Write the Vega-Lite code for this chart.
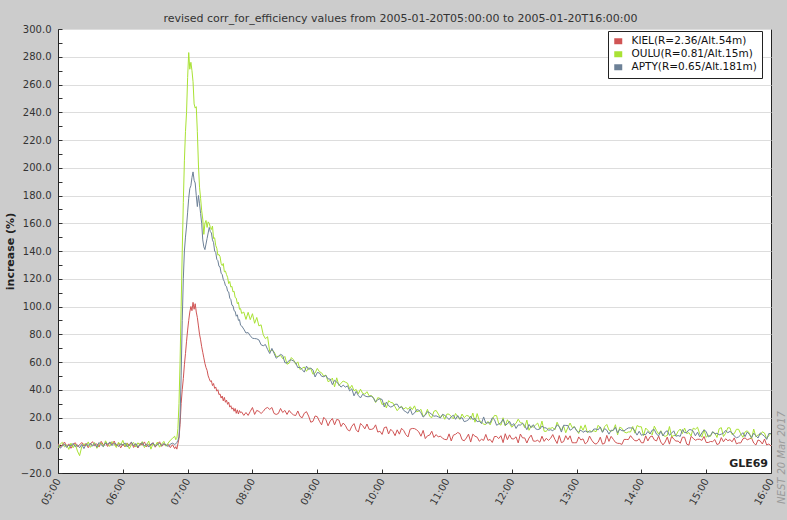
{
  "$schema": "https://vega.github.io/schema/vega-lite/v6.json",
  "width": 713,
  "height": 444,
  "autosize": {"type": "none"},
  "padding": {"left": 58, "top": 29, "right": 16, "bottom": 47},
  "background": "#cccccc",
  "config": {
    "font": "DejaVu Sans",
    "view": {"fill": "white", "stroke": "#222222", "strokeWidth": 1},
    "axis": {"labelFont": "DejaVu Sans", "titleFont": "DejaVu Sans", "labelColor": "#333333", "domainColor": "#222222", "tickColor": "#333333"}
  },
  "title": {
    "text": "revised corr_for_efficiency values from 2005-01-20T05:00:00 to 2005-01-20T16:00:00",
    "fontSize": 11,
    "fontWeight": "normal",
    "color": "#333333",
    "font": "DejaVu Sans",
    "offset": 7,
    "dx": -14,
    "dy": 7
  },
  "data": {"values": [
{"m":0,"k":1.2,"o":-2.0,"a":0.5},{"m":2,"k":-1.5,"o":0.8,"a":-2.1},{"m":4,"k":0.4,"o":2.1,"a":-0.8},{"m":6,"k":2.3,"o":-1.2,"a":1.0},{"m":8,"k":-0.7,"o":0.3,"a":-1.6},{"m":10,"k":1.0,"o":-3.0,"a":0.2},{"m":12,"k":-2.2,"o":1.5,"a":-0.5},{"m":14,"k":0.6,"o":-1.8,"a":1.4},{"m":16,"k":1.8,"o":0.9,"a":-1.1},{"m":18,"k":-1.0,"o":-4.2,"a":0.3},{"m":20,"k":0.3,"o":-7.5,"a":-1.8},{"m":22,"k":2.0,"o":-1.0,"a":0.6},{"m":24,"k":-0.5,"o":1.2,"a":-2.4},{"m":26,"k":1.4,"o":-0.6,"a":0.9},{"m":28,"k":-1.8,"o":2.4,"a":-0.3},{"m":30,"k":0.9,"o":-1.5,"a":1.6},{"m":32,"k":2.6,"o":0.4,"a":-0.7},{"m":34,"k":-0.4,"o":1.9,"a":1.2},{"m":36,"k":1.1,"o":-2.2,"a":-1.4},{"m":38,"k":-1.3,"o":0.7,"a":2.0},{"m":40,"k":2.8,"o":1.6,"a":0.4},{"m":42,"k":0.2,"o":-1.1,"a":-1.0},{"m":44,"k":1.6,"o":3.2,"a":1.8},{"m":46,"k":-0.9,"o":0.5,"a":0.6},{"m":48,"k":2.1,"o":-0.8,"a":2.4},{"m":50,"k":0.5,"o":2.7,"a":-0.2},{"m":52,"k":3.0,"o":1.0,"a":1.5},{"m":54,"k":-0.6,"o":-1.6,"a":0.8},{"m":56,"k":1.3,"o":2.2,"a":-0.9},{"m":58,"k":-1.9,"o":0.1,"a":1.1},{"m":60,"k":0.8,"o":3.5,"a":0.0},{"m":62,"k":-1.2,"o":-0.9,"a":1.7},{"m":64,"k":1.7,"o":1.4,"a":-1.2},{"m":66,"k":-0.3,"o":-2.5,"a":0.7},{"m":68,"k":2.2,"o":0.6,"a":2.2},{"m":70,"k":-1.6,"o":2.0,"a":-0.4},{"m":72,"k":0.7,"o":-1.3,"a":1.3},{"m":74,"k":-2.0,"o":1.8,"a":-1.5},{"m":76,"k":1.5,"o":-0.2,"a":0.4},{"m":78,"k":0.1,"o":2.6,"a":1.9},{"m":80,"k":2.4,"o":-1.7,"a":-0.6},{"m":82,"k":-1.1,"o":0.2,"a":1.0},{"m":84,"k":0.6,"o":3.0,"a":-1.3},{"m":86,"k":-0.2,"o":-2.8,"a":0.9},{"m":88,"k":1.9,"o":1.1,"a":1.6},{"m":90,"k":-1.4,"o":-0.4,"a":-0.8},{"m":92,"k":0.9,"o":2.3,"a":0.5},{"m":94,"k":2.5,"o":-1.4,"a":1.4},{"m":96,"k":-0.8,"o":0.9,"a":-0.2},{"m":98,"k":1.2,"o":2.8,"a":1.1},{"m":100,"k":-0.5,"o":-0.7,"a":0.3},{"m":102,"k":0.7,"o":1.6,"a":-0.9},{"m":104,"k":-1.7,"o":3.6,"a":0.8},{"m":106,"k":0.4,"o":5.0,"a":1.5},{"m":108,"k":-2.4,"o":6.5,"a":0.6},
{"m":109,"k":-1.0,"o":4.0,"a":1.0},{"m":110,"k":-2.8,"o":5.0,"a":2.0},{"m":111,"k":1.0,"o":12,"a":3.5},{"m":112,"k":5,"o":30,"a":6},{"m":113,"k":15,"o":60,"a":20},{"m":114,"k":30,"o":100,"a":50},{"m":115,"k":40,"o":140,"a":90},{"m":116,"k":48,"o":175,"a":120},{"m":117,"k":58,"o":205,"a":140},{"m":118,"k":66,"o":226,"a":150},{"m":119,"k":75,"o":240,"a":158},{"m":120,"k":83,"o":265,"a":168},{"m":121,"k":90,"o":283,"a":178},{"m":122,"k":96,"o":271,"a":185},{"m":123,"k":100,"o":276,"a":187},{"m":124,"k":97,"o":270,"a":193},{"m":125,"k":103,"o":262,"a":197},{"m":126,"k":98,"o":246,"a":191},{"m":127,"k":102,"o":243,"a":189},{"m":128,"k":96,"o":244,"a":180},{"m":129,"k":92,"o":226,"a":172},{"m":130,"k":86,"o":202,"a":180},{"m":131,"k":80,"o":186,"a":174},{"m":132,"k":76,"o":178,"a":167},{"m":133,"k":71,"o":169,"a":160},{"m":134,"k":67,"o":163,"a":148},{"m":135,"k":63,"o":152,"a":143},{"m":136,"k":59,"o":160,"a":141},{"m":137,"k":56,"o":162,"a":145},{"m":138,"k":54,"o":157,"a":149},{"m":139,"k":50,"o":161,"a":153},
{"m":140,"k":48,"o":160,"a":157},{"m":141,"k":46,"o":157,"a":154},{"m":142,"k":46.5,"o":155.5,"a":153},{"m":143,"k":43,"o":158,"a":148},{"m":144,"k":44.5,"o":149,"a":146},{"m":145,"k":41,"o":149.5,"a":140},{"m":146,"k":42,"o":144,"a":139},{"m":147,"k":39,"o":142,"a":134},{"m":148,"k":40,"o":137,"a":133},{"m":149,"k":36.5,"o":137.5,"a":129},{"m":150,"k":37,"o":136,"a":128.5},{"m":151,"k":34,"o":131,"a":124},{"m":152,"k":35.5,"o":129.5,"a":123},{"m":153,"k":32,"o":131,"a":119.5},{"m":154,"k":34.5,"o":125,"a":118},{"m":155,"k":31,"o":125.5,"a":115},{"m":156,"k":32.5,"o":123,"a":114.5},{"m":157,"k":29.5,"o":121,"a":111},{"m":158,"k":31,"o":116.5,"a":110.5},{"m":159,"k":27.5,"o":118,"a":106},{"m":160,"k":28.5,"o":114,"a":105},{"m":161,"k":26,"o":114.5,"a":101},{"m":162,"k":27,"o":110.5,"a":100.5},{"m":163,"k":24.5,"o":111,"a":97},{"m":164,"k":26.5,"o":106.5,"a":96.5},{"m":165,"k":23,"o":106,"a":93},{"m":166,"k":25.5,"o":102,"a":94},{"m":167,"k":22.5,"o":103,"a":90},{"m":168,"k":25,"o":98,"a":90.5},{"m":169,"k":23.5,"o":98.5,"a":86.5},{"m":170,"k":24,"o":95,"a":86},
{"m":172,"k":21.5,"o":96.0,"a":83.7},{"m":174,"k":23.6,"o":90.7,"a":80.9},{"m":176,"k":21.5,"o":95.8,"a":81.2},{"m":178,"k":24.4,"o":90.5,"a":78.9},{"m":180,"k":27.2,"o":94.8,"a":77.1},{"m":182,"k":22.2,"o":87.9,"a":76.9},{"m":184,"k":25.1,"o":92.1,"a":76.7},{"m":186,"k":24.4,"o":86.0,"a":75.9},{"m":188,"k":22.9,"o":86.8,"a":72.4},{"m":190,"k":24.4,"o":79.6,"a":71.7},
{"m":192,"k":26.5,"o":76.8,"a":72.6},{"m":194,"k":27.2,"o":78.2,"a":69.1},{"m":196,"k":25.8,"o":67.4,"a":66.1},{"m":198,"k":27.2,"o":68.6,"a":69.8},{"m":200,"k":22.9,"o":67.4,"a":66.3},{"m":202,"k":22.2,"o":64.0,"a":62.7},{"m":204,"k":22.9,"o":64.0,"a":64.1},{"m":206,"k":26.5,"o":64.8,"a":65.5},{"m":208,"k":23.6,"o":62.4,"a":64.7},{"m":210,"k":25.1,"o":64.0,"a":59.5},
{"m":212,"k":22.2,"o":58.4,"a":59.3},{"m":214,"k":25.1,"o":59.2,"a":61.2},{"m":216,"k":23.1,"o":63.2,"a":61.5},{"m":218,"k":21.9,"o":61.6,"a":60.7},{"m":220,"k":21.4,"o":58.4,"a":59.4},{"m":222,"k":24.7,"o":60.1,"a":55.9},{"m":224,"k":20.8,"o":54.6,"a":56.3},{"m":226,"k":19.8,"o":55.5,"a":54.5},{"m":228,"k":23.1,"o":56.4,"a":52.7},{"m":230,"k":24.2,"o":53.3,"a":57.0},
{"m":232,"k":21.0,"o":55.8,"a":54.6},{"m":234,"k":16.6,"o":55.1,"a":55.6},{"m":236,"k":17.2,"o":51.2,"a":54.3},{"m":238,"k":21.1,"o":52.1,"a":49.2},{"m":240,"k":20.6,"o":55.4,"a":52.4},{"m":242,"k":17.3,"o":53.0,"a":52.1},{"m":244,"k":14.7,"o":52.2,"a":49.7},{"m":246,"k":20.1,"o":49.8,"a":49.4},{"m":248,"k":18.4,"o":50.6,"a":50.3},{"m":250,"k":14.0,"o":45.8,"a":47.8},
{"m":252,"k":17.5,"o":46.7,"a":47.7},{"m":254,"k":19.3,"o":48.4,"a":43.7},{"m":256,"k":14.7,"o":42.1,"a":46.8},{"m":258,"k":18.6,"o":48.6,"a":45.6},{"m":260,"k":18.2,"o":43.1,"a":43.8},{"m":262,"k":13.5,"o":44.7,"a":41.9},{"m":264,"k":16.0,"o":46.3,"a":43.3},{"m":266,"k":14.3,"o":45.5,"a":41.9},{"m":268,"k":11.2,"o":44.7,"a":42.8},{"m":270,"k":10.3,"o":40.7,"a":39.2},
{"m":272,"k":13.7,"o":43.2,"a":40.7},{"m":274,"k":15.6,"o":39.3,"a":35.6},{"m":276,"k":11.1,"o":40.2,"a":38.8},{"m":278,"k":9.5,"o":37.1,"a":35.9},{"m":280,"k":15.7,"o":40.4,"a":34.1},{"m":282,"k":14.2,"o":37.4,"a":36.8},{"m":284,"k":11.8,"o":36.8,"a":35.6},{"m":286,"k":15.3,"o":38.6,"a":35.0},{"m":288,"k":11.5,"o":35.6,"a":35.0},{"m":290,"k":11.4,"o":35.8,"a":35.5},
{"m":292,"k":12.0,"o":34.5,"a":33.9},{"m":294,"k":14.7,"o":30.8,"a":31.2},{"m":296,"k":9.5,"o":34.3,"a":32.9},{"m":298,"k":10.1,"o":33.8,"a":33.5},{"m":300,"k":7.8,"o":29.3,"a":33.0},{"m":302,"k":12.7,"o":30.5,"a":27.6},{"m":304,"k":13.2,"o":26.9,"a":31.1},{"m":306,"k":8.1,"o":32.1,"a":28.5},{"m":308,"k":11.5,"o":30.9,"a":27.5},{"m":310,"k":9.9,"o":30.5,"a":28.2},
{"m":312,"k":6.9,"o":27.7,"a":29.5},{"m":314,"k":11.1,"o":24.9,"a":29.6},{"m":316,"k":8.0,"o":26.9,"a":27.0},{"m":318,"k":12.2,"o":28.1,"a":27.7},{"m":320,"k":10.6,"o":26.1,"a":25.1},{"m":322,"k":7.6,"o":27.2,"a":24.1},{"m":324,"k":6.0,"o":25.9,"a":23.0},{"m":326,"k":11.6,"o":27.8,"a":26.4},{"m":328,"k":12.1,"o":25.7,"a":22.0},{"m":330,"k":12.0,"o":28.4,"a":23.2},
{"m":332,"k":11.1,"o":24.1,"a":25.6},{"m":334,"k":9.6,"o":24.6,"a":25.3},{"m":336,"k":6.5,"o":25.9,"a":23.4},{"m":338,"k":10.7,"o":20.8,"a":20.3},{"m":340,"k":4.8,"o":22.1,"a":21.7},{"m":342,"k":6.8,"o":25.9,"a":24.2},{"m":344,"k":7.3,"o":20.9,"a":23.5},{"m":346,"k":10.1,"o":19.9,"a":22.2},{"m":348,"k":5.6,"o":24.5,"a":20.9},{"m":350,"k":7.7,"o":25.1,"a":21.2},
{"m":352,"k":6.0,"o":22.5,"a":20.5},{"m":354,"k":6.6,"o":19.9,"a":19.7},{"m":356,"k":5.0,"o":22.1,"a":22.3},{"m":358,"k":4.2,"o":18.7,"a":21.5},{"m":360,"k":4.0,"o":22.5,"a":20.2},{"m":362,"k":8.2,"o":22.4,"a":18.5},{"m":364,"k":3.1,"o":20.7,"a":20.6},{"m":366,"k":7.3,"o":19.0,"a":21.6},{"m":368,"k":7.9,"o":22.9,"a":18.7},{"m":370,"k":9.2,"o":20.4,"a":21.4},
{"m":372,"k":8.4,"o":18.6,"a":19.0},{"m":374,"k":4.0,"o":22.5,"a":20.0},{"m":376,"k":3.2,"o":19.9,"a":17.0},{"m":378,"k":5.2,"o":21.4,"a":17.5},{"m":380,"k":8.0,"o":21.2,"a":18.4},{"m":382,"k":2.3,"o":18.6,"a":20.9},{"m":384,"k":8.0,"o":23.2,"a":18.5},{"m":386,"k":6.5,"o":16.6,"a":19.4},{"m":388,"k":5.8,"o":22.8,"a":17.0},{"m":390,"k":2.9,"o":17.8,"a":17.4},
{"m":392,"k":4.3,"o":16.9,"a":15.6},{"m":394,"k":3.5,"o":15.1,"a":20.4},{"m":396,"k":7.8,"o":15.0,"a":15.9},{"m":398,"k":3.5,"o":17.2,"a":16.2},{"m":400,"k":4.2,"o":14.7,"a":16.1},{"m":402,"k":2.0,"o":18.5,"a":19.8},{"m":404,"k":6.3,"o":21.5,"a":18.5},{"m":406,"k":6.3,"o":21.3,"a":14.4},{"m":408,"k":4.8,"o":15.5,"a":15.3},{"m":410,"k":6.9,"o":14.5,"a":16.2},
{"m":412,"k":1.9,"o":19.8,"a":18.7},{"m":414,"k":8.3,"o":13.9,"a":14.5},{"m":416,"k":4.0,"o":18.4,"a":15.3},{"m":418,"k":7.5,"o":15.7,"a":17.2},{"m":420,"k":4.6,"o":13.0,"a":14.2},{"m":422,"k":4.6,"o":14.4,"a":15.6},{"m":424,"k":6.1,"o":15.8,"a":12.1},{"m":426,"k":1.7,"o":18.8,"a":14.7},{"m":428,"k":8.1,"o":16.2,"a":14.5},{"m":430,"k":5.3,"o":16.0,"a":15.9},
{"m":432,"k":5.3,"o":12.7,"a":14.2},{"m":434,"k":1.6,"o":18.1,"a":11.2},{"m":436,"k":5.2,"o":10.8,"a":15.0},{"m":438,"k":7.3,"o":13.9,"a":12.7},{"m":440,"k":3.0,"o":13.0,"a":14.8},{"m":442,"k":2.9,"o":14.5,"a":11.9},{"m":444,"k":3.6,"o":16.0,"a":11.3},{"m":446,"k":2.2,"o":11.9,"a":11.7},{"m":448,"k":6.5,"o":17.4,"a":13.8},{"m":450,"k":2.8,"o":10.1,"a":12.6},
{"m":452,"k":5.0,"o":10.0,"a":12.5},{"m":454,"k":3.5,"o":12.3,"a":10.8},{"m":456,"k":5.0,"o":12.2,"a":11.2},{"m":458,"k":7.7,"o":12.8,"a":10.5},{"m":460,"k":4.1,"o":11.1,"a":12.0},{"m":462,"k":1.3,"o":16.6,"a":14.7},{"m":464,"k":7.0,"o":13.3,"a":13.5},{"m":466,"k":1.9,"o":10.8,"a":9.5},{"m":468,"k":2.6,"o":13.9,"a":14.4},{"m":470,"k":6.9,"o":9.0,"a":14.3},
{"m":472,"k":4.0,"o":12.9,"a":14.2},{"m":474,"k":6.8,"o":16.0,"a":10.8},{"m":476,"k":1.8,"o":12.7,"a":11.8},{"m":478,"k":1.8,"o":13.4,"a":13.3},{"m":480,"k":1.8,"o":10.9,"a":10.5},{"m":482,"k":6.0,"o":8.5,"a":9.4},{"m":484,"k":3.8,"o":14.0,"a":10.9},{"m":486,"k":4.6,"o":10.8,"a":9.3},{"m":488,"k":1.0,"o":14.7,"a":10.3},{"m":490,"k":2.3,"o":9.1,"a":9.7},
{"m":492,"k":6.6,"o":10.6,"a":9.6},{"m":494,"k":3.7,"o":9.8,"a":9.6},{"m":496,"k":1.6,"o":10.5,"a":11.7},{"m":498,"k":0.8,"o":9.7,"a":11.7},{"m":500,"k":2.2,"o":14.4,"a":11.1},{"m":502,"k":5.8,"o":12.7,"a":13.2},{"m":504,"k":0.8,"o":9.5,"a":9.3},{"m":506,"k":1.4,"o":13.4,"a":12.0},{"m":508,"k":7.1,"o":15.0,"a":10.9},{"m":510,"k":2.8,"o":10.9,"a":8.0},
{"m":512,"k":6.4,"o":10.1,"a":10.8},{"m":514,"k":4.3,"o":10.8,"a":10.7},{"m":516,"k":2.1,"o":14.8,"a":12.9},{"m":518,"k":1.4,"o":7.5,"a":8.9},{"m":520,"k":1.3,"o":13.0,"a":11.6},{"m":522,"k":0.6,"o":12.2,"a":10.5},{"m":524,"k":4.2,"o":9.7,"a":10.4},{"m":526,"k":4.2,"o":8.9,"a":11.5},{"m":528,"k":4.1,"o":9.6,"a":12.5},{"m":530,"k":6.9,"o":9.6,"a":12.5},
{"m":532,"k":4.8,"o":13.5,"a":12.4},{"m":534,"k":3.3,"o":8.7,"a":10.2},{"m":536,"k":3.2,"o":14.2,"a":7.3},{"m":538,"k":4.7,"o":13.4,"a":10.1},{"m":540,"k":1.8,"o":13.3,"a":7.2},{"m":542,"k":1.8,"o":6.9,"a":7.8},{"m":544,"k":6.8,"o":12.4,"a":7.7},{"m":546,"k":3.1,"o":10.8,"a":9.9},{"m":548,"k":6.0,"o":9.1,"a":8.1},{"m":550,"k":6.7,"o":7.5,"a":10.9},
{"m":552,"k":3.9,"o":13.8,"a":11.3},{"m":554,"k":3.1,"o":10.6,"a":8.0},{"m":556,"k":6.6,"o":8.1,"a":6.8},{"m":558,"k":2.3,"o":10.5,"a":10.1},{"m":560,"k":0.2,"o":7.2,"a":6.7},{"m":562,"k":2.3,"o":6.4,"a":9.5},{"m":564,"k":5.9,"o":7.1,"a":10.5},{"m":566,"k":0.8,"o":13.5,"a":7.2},{"m":568,"k":6.5,"o":6.2,"a":8.7},{"m":570,"k":4.4,"o":7.0,"a":10.4},
{"m":572,"k":3.0,"o":7.0,"a":6.5},{"m":574,"k":3.0,"o":10.1,"a":7.0},{"m":576,"k":1.5,"o":11.7,"a":6.4},{"m":578,"k":5.8,"o":8.4,"a":11.3},{"m":580,"k":5.8,"o":12.4,"a":9.1},{"m":582,"k":0.8,"o":8.4,"a":9.1},{"m":584,"k":0.1,"o":9.1,"a":11.2},{"m":586,"k":6.4,"o":6.7,"a":11.2},{"m":588,"k":5.0,"o":12.3,"a":10.1},{"m":590,"k":3.6,"o":11.5,"a":6.8},
{"m":592,"k":4.3,"o":13.0,"a":9.4},{"m":594,"k":4.3,"o":8.2,"a":6.1},{"m":596,"k":3.5,"o":5.8,"a":8.9},{"m":598,"k":6.3,"o":11.3,"a":11.0},{"m":600,"k":2.0,"o":5.7,"a":9.9},{"m":602,"k":2.0,"o":7.3,"a":6.0},{"m":604,"k":2.7,"o":6.4,"a":7.0},{"m":606,"k":2.6,"o":9.6,"a":9.8},{"m":608,"k":4.1,"o":8.8,"a":8.1},{"m":610,"k":0.5,"o":5.6,"a":8.7},
{"m":612,"k":1.2,"o":11.9,"a":7.5},{"m":614,"k":5.5,"o":12.7,"a":8.0},{"m":616,"k":2.5,"o":6.3,"a":8.6},{"m":618,"k":4.7,"o":8.6,"a":10.7},{"m":620,"k":3.3,"o":12.6,"a":9.0},{"m":622,"k":4.0,"o":12.5,"a":10.0},{"m":624,"k":2.5,"o":7.7,"a":8.9},{"m":626,"k":5.3,"o":8.4,"a":6.6},{"m":628,"k":1.0,"o":11.5,"a":5.4},{"m":630,"k":1.7,"o":11.5,"a":6.0},
{"m":632,"k":1.7,"o":8.2,"a":7.5},{"m":634,"k":4.6,"o":5.7,"a":9.1},{"m":636,"k":5.3,"o":9.6,"a":6.2},{"m":638,"k":3.9,"o":10.4,"a":9.5},{"m":640,"k":4.6,"o":8.7,"a":7.8},{"m":642,"k":5.2,"o":4.6,"a":5.5},{"m":644,"k":1.6,"o":11.7,"a":8.7},{"m":646,"k":0.2,"o":6.0,"a":6.9},{"m":648,"k":3.8,"o":7.5,"a":5.2},{"m":650,"k":3.1,"o":7.4,"a":8.9},
{"m":652,"k":0.9,"o":9.7,"a":7.7},{"m":654,"k":4.5,"o":8.8,"a":6.5},{"m":656,"k":0.2,"o":4.7,"a":4.2},{"m":658,"k":0.9,"o":7.0,"a":8.5},{"m":660,"k":-0.5,"o":8.5,"a":8.4}
  ]},
  "resolve": {"axis": {"y": "independent"}},
  "layer": [
    {
      "transform": [{"fold": ["k", "o", "a"], "as": ["s", "v"]}],
      "mark": {"type": "line", "strokeWidth": 1, "clip": true},
      "encoding": {
        "x": {
          "field": "m", "type": "quantitative",
          "scale": {"domain": [0, 660], "nice": false, "zero": false},
          "axis": {
            "title": null,
            "values": [0,30,60,90,120,150,180,210,240,270,300,330,360,390,420,450,480,510,540,570,600,630,660],
            "labelExpr": "datum.value % 60 == 0 ? (datum.value < 300 ? '0' : '') + (5 + datum.value / 60) + ':00' : ''",
            "labelAngle": -60,
            "labelAlign": "right",
            "labelBaseline": "middle",
            "labelFontSize": 10,
            "labelPadding": 10,
            "tickSize": -4,
            "grid": false,
            "labelOverlap": false,
            "labelFlush": false
          }
        },
        "y": {
          "field": "v", "type": "quantitative",
          "scale": {"domain": [-20, 300], "nice": false, "zero": false},
          "axis": {
            "title": "increase (%)",
            "titleFontWeight": "bold",
            "titleFontSize": 11,
            "titleColor": "#222222",
            "titlePadding": 5,
            "values": [-20,-10,0,10,20,30,40,50,60,70,80,90,100,110,120,130,140,150,160,170,180,190,200,210,220,230,240,250,260,270,280,290,300],
            "labelExpr": "datum.value % 20 == 0 ? format(datum.value, '.1f') : ''",
            "labelFontSize": 10,
            "labelPadding": 11,
            "tickSize": -4,
            "grid": true,
            "gridColor": "#dddddd",
            "gridOpacity": {"condition": {"test": "datum.value % 20 == 0", "value": 1}, "value": 0},
            "labelOverlap": false,
            "labelFlush": false
          }
        },
        "color": {
          "field": "s", "type": "nominal",
          "scale": {"domain": ["k", "o", "a"], "range": ["#d05454", "#a9e234", "#6d8197"]},
          "legend": {
            "title": null,
            "orient": "none",
            "legendX": 550,
            "legendY": 2,
            "direction": "vertical",
            "fillColor": "white",
            "strokeColor": "#222222",
            "padding": 5,
            "symbolType": "M-1,-0.75H1V0.75H-1Z",
            "symbolSize": 64,
            "symbolStrokeWidth": 0,
            "labelFontSize": 10.5,
            "labelColor": "#111111",
            "labelFont": "DejaVu Sans",
            "labelOffset": 8,
            "rowPadding": 2,
            "labelExpr": "datum.value == 'k' ? 'KIEL(R=2.36/Alt.54m)' : datum.value == 'o' ? 'OULU(R=0.81/Alt.15m)' : 'APTY(R=0.65/Alt.181m)'",
            "encode": {"symbols": {"update": {"fill": {"scale": "color", "field": "value"}, "opacity": {"value": 1}}}}
          }
        }
      }
    },
    {
      "data": {"values": [{"t": "GLE69", "x": 660, "y": -13.5}]},
      "mark": {"type": "text", "align": "right", "baseline": "middle", "dx": -3, "fontWeight": "bold", "fontSize": 11, "color": "#222222", "font": "DejaVu Sans"},
      "encoding": {
        "text": {"field": "t"},
        "x": {"field": "x", "type": "quantitative"},
        "y": {
          "field": "y", "type": "quantitative",
          "axis": {
            "orient": "right",
            "labels": false,
            "ticks": false,
            "domain": false,
            "grid": false,
            "title": "NEST  20 Mar 2017",
            "titleAngle": 270,
            "titleX": 10,
            "titleY": 428,
            "titleAlign": "center",
            "titleBaseline": "middle",
            "titleFontStyle": "italic",
            "titleFontWeight": "normal",
            "titleFontSize": 10,
            "titleColor": "#9a9a9a"
          }
        }
      }
    }
  ]
}
